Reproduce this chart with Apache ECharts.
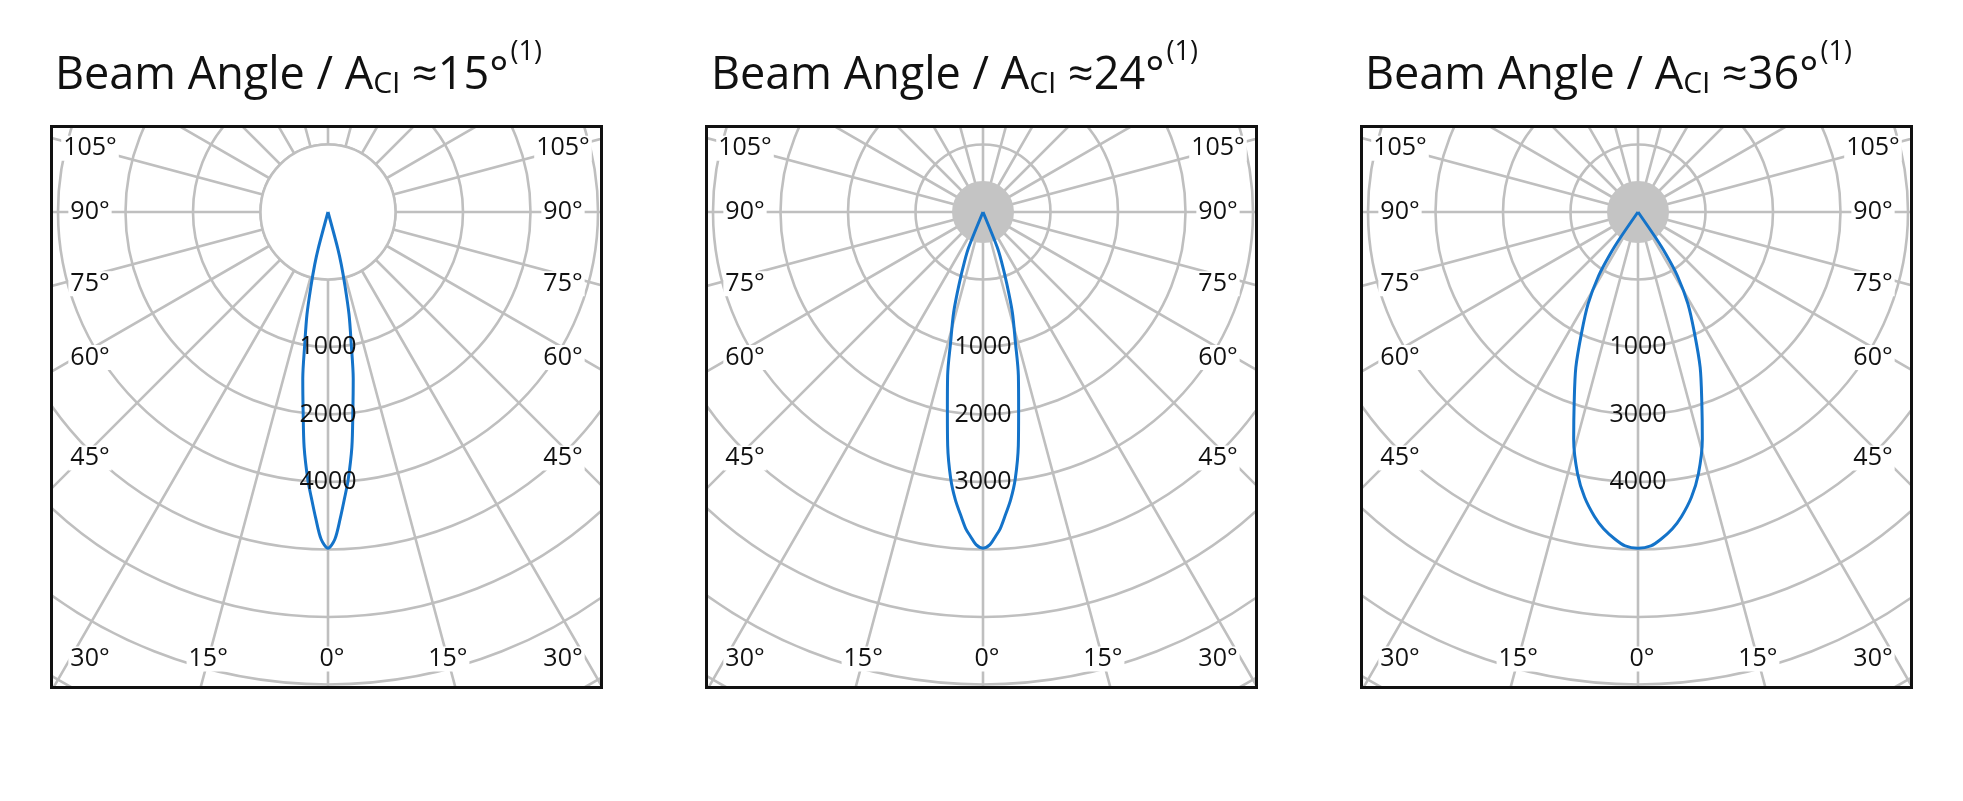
<!DOCTYPE html>
<html><head><meta charset="utf-8">
<script src="https://cdn.jsdelivr.net/npm/echarts@6/dist/echarts.min.js"></script>
<style>
html,body{margin:0;padding:0;background:#fff;width:1963px;height:801px;overflow:hidden;position:relative}
#titles{position:absolute;left:0;top:0;width:1963px;height:801px}
.panel{position:absolute;top:125px;width:553px;height:564px;box-sizing:border-box;border:3px solid #111;overflow:hidden;background:#fff}
</style></head><body>
<div id="titles"></div>
<div class="panel" id="p0" style="left:50px"></div>
<div class="panel" id="p1" style="left:705px"></div>
<div class="panel" id="p2" style="left:1360px"></div>
<script>
// Data
const beamAngles = ['15', '24', '36'];
const ringLabels = [['1000','2000','4000'], ['1000','2000','3000'], ['1000','3000','4000']];
const labelRings = [2, 3, 4];
// half-curve: [angle deg from nadir, radius in ring units]
const curveAngles = [
  [0, 1.2, 2.3, 3.3, 4.3, 5.8, 7.1, 8.6, 10, 11.6, 13, 14.2, 15, 16],
  [0, 1.2, 2.2, 3.1, 4, 5.5, 6.9, 8.6, 10.2, 12.2, 14, 16.3, 18.4, 20.5, 22, 24],
  [0, 2.2, 4, 6.2, 8.1, 10.6, 13, 15.8, 18.5, 21.8, 25, 28.5, 31.7, 33.5, 34.5, 35]
];
const curveRadii = [
  [4.98, 4.85, 4.54, 4.25, 3.98, 3.5, 2.98, 2.5, 1.98, 1.55, 1.11, 0.8, 0.56, 0],
  [4.98, 4.93, 4.81, 4.7, 4.54, 4.28, 3.98, 3.5, 2.98, 2.48, 1.98, 1.55, 1.11, 0.78, 0.56, 0],
  [4.98, 4.95, 4.86, 4.72, 4.56, 4.3, 3.98, 3.5, 2.98, 2.48, 1.98, 1.55, 1.11, 0.75, 0.45, 0]
];
const sideLabels = [105, 90, 75, 60, 45];
const bottomLabels = [30, 15, 0, 15, 30];
const bottomAngles = [-30, -15, 0, 15, 30];

const RING = 67.5, NRINGS = 9;
const W = 547, H = 558;
const CX = 275, CY = 84;
const FONT = '"Open Sans", "Noto Sans", sans-serif';

const tChart = echarts.init(document.getElementById('titles'));
const titleLefts = [50, 706, 1360];
tChart.setOption({
  title: beamAngles.map((a, i) => ({
    left: titleLefts[i], top: 34,
    text: '{m|Beam Angle / A}{s|CI}{m| ≈' + a + '°}{u|(1)}',
    textStyle: { fontWeight: 'normal', rich: {
      m: { fontFamily: FONT, fontSize: 45, fontWeight: 'normal', color: '#111', verticalAlign: 'bottom', lineHeight: 60 },
      s: { fontFamily: FONT, fontSize: 30, fontWeight: 'normal', color: '#111', verticalAlign: 'bottom', lineHeight: 52 },
      u: { fontFamily: FONT, fontSize: 27, fontWeight: 'normal', color: '#111', verticalAlign: 'top', lineHeight: 60, padding:[0,0,0,2] }
    }}
  }))
});

const GRID = '#bfbfbf';
beamAngles.forEach((a, i) => {
  const ch = echarts.init(document.getElementById('p' + i));
  const data = [];
  const ang = curveAngles[i], rad = curveRadii[i];
  for (let k = ang.length - 1; k > 0; k--) data.push([rad[k], 360 - ang[k]]);
  for (let k = 0; k < ang.length; k++) data.push([rad[k], ang[k]]);
  const pt = (r, deg) => {
    const t = deg * Math.PI / 180;
    return [CX - r * RING * Math.sin(t), CY + r * RING * Math.cos(t)];
  };
  const graphics = [];
  if (i === 0) {
    graphics.push({ type: 'circle', shape: { cx: CX, cy: CY, r: RING }, style: { fill: '#fff', stroke: GRID, lineWidth: 2.5 }, z: 1 });
  } else {
    graphics.push({ type: 'circle', shape: { cx: CX, cy: CY, r: 31 }, style: { fill: '#c4c4c4' }, z: 1 });
  }
  const txt = (x, y, s, bg) => ({ type: 'text', x, y, z: 10,
    style: { text: s, font: '25px ' + FONT, fill: '#111', align: 'center', verticalAlign: 'middle',
      backgroundColor: bg ? '#fff' : null, padding: bg ? [0, 2] : 0 } });
  ringLabels[i].forEach((s, k) => {
    const p = pt(labelRings[k], 0);
    graphics.push(txt(p[0], p[1], s, false));
  });
  const sideX = 37, botY = H - 27;
  sideLabels.forEach(d => {
    const t = d * Math.PI / 180;
    const dx = CX - sideX;
    const yl = d === 90 ? CY : CY + dx * Math.cos(t) / Math.sin(t);
    const off = d < 90 ? 8 : 0;
    graphics.push(txt(sideX, yl + off, d + '°', true));
    graphics.push(txt(W - sideX, yl + off, d + '°', true));
  });
  bottomLabels.forEach((s, k) => {
    const d = bottomAngles[k];
    let x = CX + (botY - CY) * Math.tan(d * Math.PI / 180);
    if (Math.abs(d) === 30) x = d < 0 ? sideX : W - sideX;
    graphics.push(txt(x + (d === 0 ? 4 : 0), botY, s + '°', true));
  });
  ch.setOption({
    animation: false,
    polar: { center: [CX, CY], radius: RING * NRINGS },
    angleAxis: { type: 'value', min: 0, max: 360, interval: 15, startAngle: 270, clockwise: true,
      axisLine: { show: false }, axisTick: { show: false }, axisLabel: { show: false },
      splitLine: { show: true, lineStyle: { color: GRID, width: 2.6 } } },
    radiusAxis: { type: 'value', min: 0, max: NRINGS, interval: 1,
      axisLine: { show: false }, axisTick: { show: false }, axisLabel: { show: false },
      splitLine: { show: true, lineStyle: { color: GRID, width: 2.6 } } },
    graphic: graphics,
    series: [{ type: 'line', coordinateSystem: 'polar', data, smooth: 0.3, symbol: 'none', z: 5,
      lineStyle: { color: '#1473c9', width: 3 } }]
  });
});
</script></body></html>
